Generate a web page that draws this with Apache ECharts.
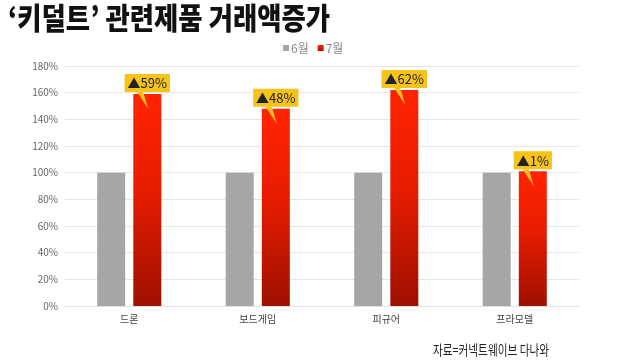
<!DOCTYPE html>
<html><head><meta charset="utf-8">
<script src="https://cdn.jsdelivr.net/npm/echarts@6/dist/echarts.min.js"></script>
<style>html,body{margin:0;padding:0;background:#fff}#c{width:620px;height:360px}</style>
</head><body><div id="c"></div>
<script>
const categories = ['드론', '보드게임', '피규어', '프라모델'];
const june = [100, 100, 100, 100];
const july = [159, 148, 162, 101];
const changeLabels = ['▲59%', '▲48%', '▲62%', '▲1%'];
const yTicks = [0, 20, 40, 60, 80, 100, 120, 140, 160, 180];
const titleText = '‘키덜트’ 관련제품 거래액증가';
const sourceText = '자료=커넥트웨이브 다나와';

const chart = echarts.init(document.getElementById('c'));
const fam = '"Noto Sans CJK KR", "Noto Sans", sans-serif';
chart.setOption({
  animation: false,
  textStyle: { fontFamily: fam },
  graphic: [
    { type: 'text', x: 8, y: 3, scaleX: 0.88,
      style: { text: titleText, font: '900 30px ' + fam, fill: '#111', textVerticalAlign: 'top' } },
    { type: 'text', x: 549, y: 343, scaleX: 0.76,
      style: { text: sourceText, font: '14px ' + fam, fill: '#222', textAlign: 'right', textVerticalAlign: 'top' } }
  ],
  legend: {
    data: ['6월', '7월'], left: 278, top: 37, icon: 'rect', itemWidth: 6, itemHeight: 6,
    itemGap: 9, textStyle: { fontSize: 12, color: '#888', padding: [0, 0, 0, -3] }
  },
  grid: { left: 65, right: 41, top: 66, bottom: 54 },
  xAxis: {
    type: 'category', data: categories,
    axisLine: { lineStyle: { color: '#e3e3e3' } }, axisTick: { show: false },
    axisLabel: { fontSize: 10, color: '#444', margin: 8 }
  },
  yAxis: {
    type: 'value', min: yTicks[0], max: yTicks[yTicks.length - 1], interval: 20,
    axisLabel: { formatter: '{value}%', fontSize: 10, color: '#666', margin: 7 },
    splitLine: { lineStyle: { color: '#e6e6e6', width: 1 } },
    axisLine: { show: false }, axisTick: { show: false }
  },
  series: [
    { name: '6월', type: 'bar', data: june, barWidth: 28, barGap: '29%',
      itemStyle: { color: '#a6a6a6' } },
    { name: '7월', type: 'bar', data: july, barWidth: 28,
      itemStyle: { color: new echarts.graphic.LinearGradient(0, 0, 0, 1, [
        { offset: 0, color: '#ff2400' }, { offset: 0.45, color: '#e81c00' }, { offset: 1, color: '#9e1000' }]) },
      label: { show: true, position: 'top', distance: 2,
        formatter: p => changeLabels[p.dataIndex],
        backgroundColor: '#f6c31a', padding: [3, 3, 2, 3], fontSize: 13, color: '#222' },
      z: 3 },
    { name: 'pointer', type: 'scatter', data: july, silent: true, z: 4,
      symbol: 'path://M0,0 L6,0 L11,17 Z', symbolSize: [11, 17], symbolKeepAspect: false,
      symbolOffset: [13.5, 6.5], itemStyle: { color: '#f6c31a', opacity: 1 } }
  ]
});
</script></body></html>
